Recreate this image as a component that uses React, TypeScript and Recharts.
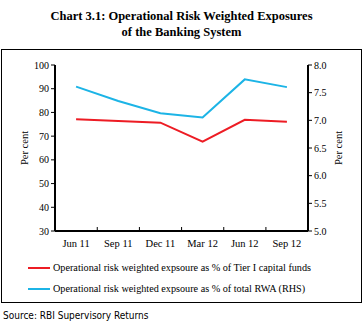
import { Line, LineChart, XAxis, YAxis } from "recharts";

const quarters = ["Jun 11", "Sep 11", "Dec 11", "Mar 12", "Jun 12", "Sep 12"];
const tierOneShare = [77.1, 76.4, 75.7, 67.7, 76.9, 76.1];
const rwaShare = [7.61, 7.35, 7.13, 7.05, 7.74, 7.6];
const leftTicks = [30, 40, 50, 60, 70, 80, 90, 100];
const rightTicks = [5.0, 5.5, 6.0, 6.5, 7.0, 7.5, 8.0];

const RED = "#ed1c24";
const BLUE = "#1cb4e6";
const SERIF = "'Liberation Serif', 'Times New Roman', serif";

const data = quarters.map((q, i) => ({
  quarter: q,
  tier1: tierOneShare[i],
  rwa: rwaShare[i],
}));

function QuarterTick(props: any) {
  const { x, y, payload, index } = props;
  return (
    <g>
      {index > 0 && (
        <line x1={x - 21} x2={x - 21} y1={y - 9} y2={y - 12} stroke="#000" />
      )}
      <text
        x={x}
        y={y}
        dy={8}
        textAnchor="middle"
        fontSize={10.5}
        fontFamily={SERIF}
        fill="#000"
      >
        {payload.value}
      </text>
    </g>
  );
}

function perCent(side: "left" | "right") {
  return (props: any) => {
    const vb = props.viewBox;
    const cx = side === "left" ? vb.x + 9 : vb.x + vb.width - 10;
    const cy = vb.y + vb.height / 2;
    return (
      <text
        x={cx}
        y={cy}
        transform={`rotate(-90 ${cx} ${cy})`}
        textAnchor="middle"
        dominantBaseline="central"
        fontSize={10.5}
        fontFamily={SERIF}
        fill="#000"
      >
        Per cent
      </text>
    );
  };
}

function LegendRow({ color, text }: { color: string; text: string }) {
  return (
    <div style={{ display: "flex", alignItems: "center", height: 21 }}>
      <div
        style={{ width: 22, height: 2, background: color, marginRight: 3 }}
      />
      <span>{text}</span>
    </div>
  );
}

export default function App() {
  const tickStyle = { fontSize: 10, fontFamily: SERIF, fill: "#000" };
  return (
    <div
      style={{
        position: "absolute",
        left: 0,
        top: 0,
        width: 363,
        height: 325,
        background: "#fff",
        fontFamily: SERIF,
        color: "#000",
      }}
    >
      <div
        style={{
          position: "absolute",
          top: 8,
          left: 0,
          width: 363,
          textAlign: "center",
          fontWeight: "bold",
          fontSize: 12.5,
          lineHeight: "16px",
        }}
      >
        Chart 3.1: Operational Risk Weighted Exposures
        <br />
        of the Banking System
      </div>
      <div
        style={{
          position: "absolute",
          left: 1,
          top: 49,
          width: 359,
          height: 252,
          border: "1px solid #000",
        }}
      />
      <div style={{ position: "absolute", left: 0, top: 49 }}>
        <LineChart
          width={363}
          height={212}
          data={data}
          margin={{ top: 16, right: 15, bottom: 0, left: 15 }}
        >
          <XAxis
            dataKey="quarter"
            scale="band"
            tickLine={false}
            tickSize={0}
            tickMargin={8}
            axisLine={{ stroke: "#000", strokeWidth: 2 }}
            tick={<QuarterTick />}
            interval={0}
            height={30}
          />
          <YAxis
            yAxisId="left"
            domain={[30, 100]}
            ticks={leftTicks}
            interval={0}
            width={40}
            axisLine={{ stroke: "#000", strokeWidth: 2 }}
            tickLine={{ stroke: "#000" }}
            tickSize={4}
            tickMargin={2}
            tick={tickStyle}
            label={perCent("left")}
          />
          <YAxis
            yAxisId="right"
            orientation="right"
            domain={[5, 8]}
            ticks={rightTicks}
            interval={0}
            width={40}
            axisLine={{ stroke: "#000", strokeWidth: 2 }}
            tickLine={{ stroke: "#000" }}
            tickSize={4}
            tickMargin={2}
            tick={tickStyle}
            tickFormatter={(v: number) => v.toFixed(1)}
            label={perCent("right")}
          />
          <Line
            yAxisId="left"
            dataKey="tier1"
            stroke={RED}
            strokeWidth={2}
            dot={false}
            isAnimationActive={false}
          />
          <Line
            yAxisId="right"
            dataKey="rwa"
            stroke={BLUE}
            strokeWidth={2}
            dot={false}
            isAnimationActive={false}
          />
        </LineChart>
      </div>
      <div
        style={{
          position: "absolute",
          left: 28,
          top: 257,
          fontSize: 10.2,
          lineHeight: "14px",
        }}
      >
        <LegendRow
          color={RED}
          text="Operational risk weighted expsoure as % of Tier I capital funds"
        />
        <LegendRow
          color={BLUE}
          text="Operational risk weighted expsoure as % of total RWA (RHS)"
        />
      </div>
      <div
        style={{
          position: "absolute",
          left: 3,
          top: 309,
          fontSize: 10,
          lineHeight: "14px",
          fontFamily: "'Liberation Sans Narrow', 'DejaVu Sans Condensed', sans-serif",
        }}
      >
        Source: RBI Supervisory Returns
      </div>
    </div>
  );
}
